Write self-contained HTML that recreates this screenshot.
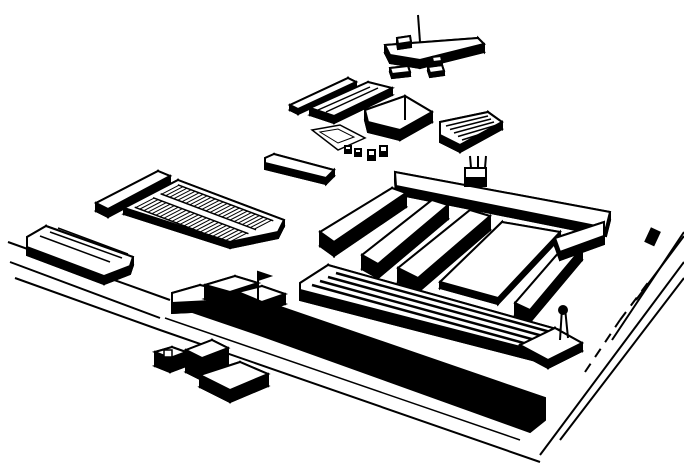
<!DOCTYPE html>
<html><head><style>html,body{margin:0;padding:0;background:#fff}svg{display:block}</style></head>
<body>
<svg id="s" width="684" height="468" viewBox="0 0 684 468" xmlns="http://www.w3.org/2000/svg" stroke="#000" stroke-width="2" fill="none">
<path d="M8,242 L170,300"/><path d="M10,262 L160,318"/>
<path d="M15,278 L160,330 L540,462"/>
<path d="M165,318 L520,440" stroke-width="1.5"/>
<path d="M540,455 L684,262"/><path d="M560,440 L684,278"/>
<path d="M612,340 L684,232"/><path d="M636,300 L684,236"/>
<path d="M585,372 L620,320" stroke-dasharray="10,8"/>
<path d="M620,320 L650,280" stroke-dasharray="10,8"/>
<rect x="648" y="230" width="9" height="14" fill="#000" transform="rotate(25 653 237)"/>
<g id="b"></g>
</svg>
<script>
var g=document.getElementById('b'),NS='http://www.w3.org/2000/svg';
function el(t,a){var e=document.createElementNS(NS,t);for(var k in a)e.setAttribute(k,a[k]);g.appendChild(e);return e;}
function blk(p,d){var q=p.map(function(v){return v[0]+','+(v[1]+d)}).join(' ');
 el('polygon',{points:q,fill:'#000'});
 for(var i=0;i<p.length;i++){var a=p[i],b=p[(i+1)%p.length];
  el('polygon',{points:a+' '+b+' '+b[0]+','+(b[1]+d)+' '+a[0]+','+(a[1]+d),fill:'#000',stroke:'#000'});}
 el('polygon',{points:p.join(' '),fill:'#fff',stroke:'#000','stroke-width':2});}
function ln(x1,y1,x2,y2,w){el('line',{x1:x1,y1:y1,x2:x2,y2:y2,'stroke-width':w||1.5});}
blk([[385,45],[478,38],[484,44],[420,60],[390,55]],8);
ln(418,15,420,42,2);
blk([[397,38],[410,36],[411,42],[398,44]],5);
blk([[390,68],[408,66],[410,72],[392,74]],4);
blk([[428,67],[442,65],[444,71],[430,73]],4);
blk([[432,57],[441,56],[442,61],[433,62]],4);
blk([[290,105],[348,78],[356,82],[298,109]],5);
blk([[310,108],[368,82],[392,88],[334,116]],7);
ln(318,110,370,87);ln(326,112,378,88);
blk([[365,110],[405,96],[432,112],[400,130],[368,122]],10);
ln(405,96,405,120,2);
blk([[440,122],[488,112],[502,122],[460,145],[440,135]],7);
for(var i=0;i<5;i++)ln(446+i*4,126+i*3.5,488+i*3,116+i*3,1.5);
el('polygon',{points:'312,130 340,125 365,138 338,150',fill:'#fff','stroke-width':1.5});
el('polygon',{points:'320,132 338,129 354,137 338,143',fill:'#fff','stroke-width':1});
blk([[345,146],[351,146],[351,150],[345,150]],3);blk([[355,149],[361,149],[361,153],[355,153]],3);
blk([[368,150],[375,150],[375,156],[368,156]],4);blk([[380,146],[387,146],[387,152],[380,152]],4);
blk([[265,158],[274,154],[334,170],[326,178],[265,163]],6);
blk([[96,203],[158,171],[170,176],[108,209]],8);
blk([[178,180],[284,220],[278,232],[230,242],[124,208]],6);
(function(){var A=[178,180],U=[106,40],V=[-54,28];
function P(u,v){return [A[0]+u*U[0]+v*V[0],A[1]+u*U[1]+v*V[1]];}
[[0.1,0.42],[0.56,0.9]].forEach(function(b){for(var u=0.06;u<0.95;u+=0.038){var p=P(u,b[0]),q=P(u,b[1]);ln(p[0],p[1],q[0],q[1],1);}
 var a=P(0.05,b[0]),c=P(0.95,b[0]);ln(a[0],a[1],c[0],c[1],1.5);a=P(0.05,b[1]);c=P(0.95,b[1]);ln(a[0],a[1],c[0],c[1],1.5);});
})();
blk([[27,237],[46,226],[133,257],[130,266],[104,276],[27,247]],8);
ln(40,236,110,262,1.5);ln(50,232,122,258,1.5);ln(58,228,128,254,1.5);
blk([[395,172],[610,212],[606,228],[396,186]],8);
blk([[320,232],[392,188],[406,193],[334,242]],14);
blk([[362,255],[432,200],[448,205],[378,264]],14);
blk([[398,268],[470,210],[490,216],[418,278]],14);
blk([[440,282],[502,222],[560,232],[498,298]],6);
blk([[515,303],[567,243],[582,248],[530,310]],12);
blk([[555,238],[604,222],[604,236],[560,252]],8);
blk([[465,168],[486,168],[486,178],[465,178]],8);
ln(471,168,470,156,2);ln(478,168,478,156,2);ln(485,168,486,156,2);
blk([[300,283],[328,265],[560,330],[540,352],[300,290]],10);
for(var i=0;i<4;i++)ln(312+i*8,285-i*4,542+i*4,348-i*5,2.5);
blk([[520,345],[555,328],[582,343],[548,360]],8);
ln(562,308,560,340,2);ln(565,308,568,338,2);
el('circle',{cx:563,cy:310,r:4,fill:'#000'});
el('polygon',{points:'172,296 260,300 545,398 545,420 530,432 260,335 172,305',fill:'#000'});
ln(262,303,540,400,1.5);
blk([[172,293],[200,285],[230,292],[230,300],[172,303]],10);
blk([[205,285],[235,276],[258,283],[230,292]],14);
blk([[238,292],[262,286],[285,294],[262,302]],10);
ln(258,272,258,300,2);el('polygon',{points:'258,272 270,276 258,280',fill:'#000'});
blk([[155,352],[172,347],[186,352],[170,358]],14);
blk([[186,350],[212,340],[228,348],[202,358]],22);
blk([[200,375],[240,362],[268,374],[230,390]],12);
el('rect',{x:164,y:350,width:8,height:7,fill:'#fff','stroke-width':1.5});
</script>
</body></html>
